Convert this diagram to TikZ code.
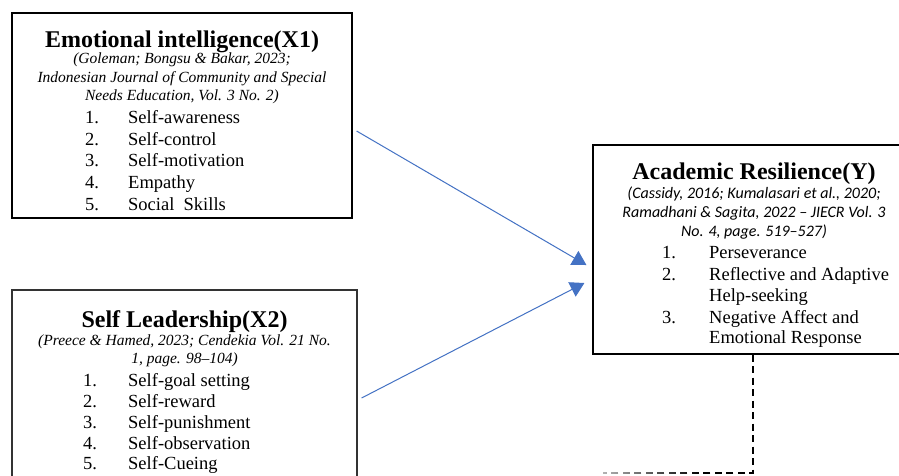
\documentclass[tikz,border=0pt]{standalone}
\usepackage{fontspec}
\setmainfont{Liberation Serif}
\newfontfamily\citefont{Carlito}
\usetikzlibrary{arrows.meta,fadings}
\definecolor{arrowblue}{HTML}{4472C4}
\begin{document}
\begin{tikzpicture}[x=1pt,y=-1pt,
  box/.style={draw=black, line width=1.2pt, inner sep=0pt, rectangle},
  ttl/.style={anchor=base, font=\fontsize{24}{28}\selectfont\bfseries, inner sep=0pt},
  cit/.style={anchor=base, font=\fontsize{15.5}{18}\selectfont\itshape, inner sep=0pt},
  cits/.style={anchor=base, font=\citefont\fontsize{16}{18}\selectfont\itshape, inner sep=0pt},
  num/.style={anchor=base west, font=\fontsize{18.5}{21}\selectfont, inner sep=0pt},
  itm/.style={anchor=base west, font=\fontsize{18.5}{21}\selectfont, inner sep=0pt},
  arr/.style={draw=arrowblue, line width=1pt, -{Triangle[length=14pt,width=16pt]}},
  dsh/.style={draw=black, line width=2pt, dash pattern=on 7pt off 4.5pt}
]
\useasboundingbox (0,0) rectangle (899,475);
\clip (0,0) rectangle (899,475);
\fill[white] (0,0) rectangle (899,475);

% boxes
\node[box, minimum width=340pt, minimum height=205pt] (e1) at (182,115.5) {};
\node[box, draw=black!80, minimum width=345pt, minimum height=210pt] (e2) at (184.5,395) {};
\node[box, minimum width=322pt, minimum height=209pt] (y) at (754,249.5) {};

% box 1 text
\node[ttl] (t1) at (182,47) {Emotional intelligence(X1)};
\node[cit] (c11) at (182,63) {(Goleman; Bongsu \& Bakar, 2023;};
\node[cit] (c12) at (182,82) {Indonesian Journal of Community and Special};
\node[cit] (c13) at (182,100) {Needs Education, Vol. 3 No. 2)};
\foreach \t/\yy [count=\i] in {Self-awareness/123, Self-control/145, Self-motivation/166, Empathy/188, Social\ \ Skills/210}{
  \node[num] (e1n\i) at (85,\yy) {\i.};
  \node[itm] (e1i\i) at (128,\yy) {\t};
}

% box 2 text
\node[ttl] (t2) at (184.5,327) {Self Leadership(X2)};
\node[cit] (c21) at (184.5,345) {(Preece \& Hamed, 2023; Cendekia Vol. 21 No.};
\node[cit] (c22) at (184.5,363) {1, page. 98–104)};
\foreach \t/\yy [count=\i] in {Self-goal setting/386, Self-reward/407, Self-punishment/428, Self-observation/449, Self-Cueing/469}{
  \node[num] (e2n\i) at (83,\yy) {\i.};
  \node[itm] (e2i\i) at (128,\yy) {\t};
}

% box Y text
\node[ttl] (ty) at (754,179) {Academic Resilience(Y)};
\node[cits] (cy1) at (754,198) {(Cassidy, 2016; Kumalasari et al., 2020;};
\node[cits] (cy2) at (754,217) {Ramadhani \& Sagita, 2022 – JIECR Vol. 3};
\node[cits] (cy3) at (754,236) {No. 4, page. 519–527)};
\node[num] (yn1) at (662,258) {1.};
\node[itm] (yi1) at (709,258) {Perseverance};
\node[num] (yn2) at (662,280) {2.};
\node[itm] (yi2) at (709,280) {Reflective and Adaptive};
\node[itm] (yi2b) at (709,301) {Help-seeking};
\node[num] (yn3) at (662,323) {3.};
\node[itm] (yi3) at (709,323) {Negative Affect and};
\node[itm] (yi3b) at (709,343) {Emotional Response};

% connectors
\draw[arr] ([shift={(4,15.5)}]e1.east) -- ([shift={(-6,15.5)}]y.west);
\draw[arr] ([shift={(4,3)}]e2.east) -- ([shift={(-8,33.5)}]y.west);
\coordinate (dend) at (603,473);
\draw[dsh] ([xshift=-1pt]y.south) |- (dend);
\fill[white, fill opacity=0.75, path fading=east] (596,464) rectangle (700,480);
\end{tikzpicture}
\end{document}
